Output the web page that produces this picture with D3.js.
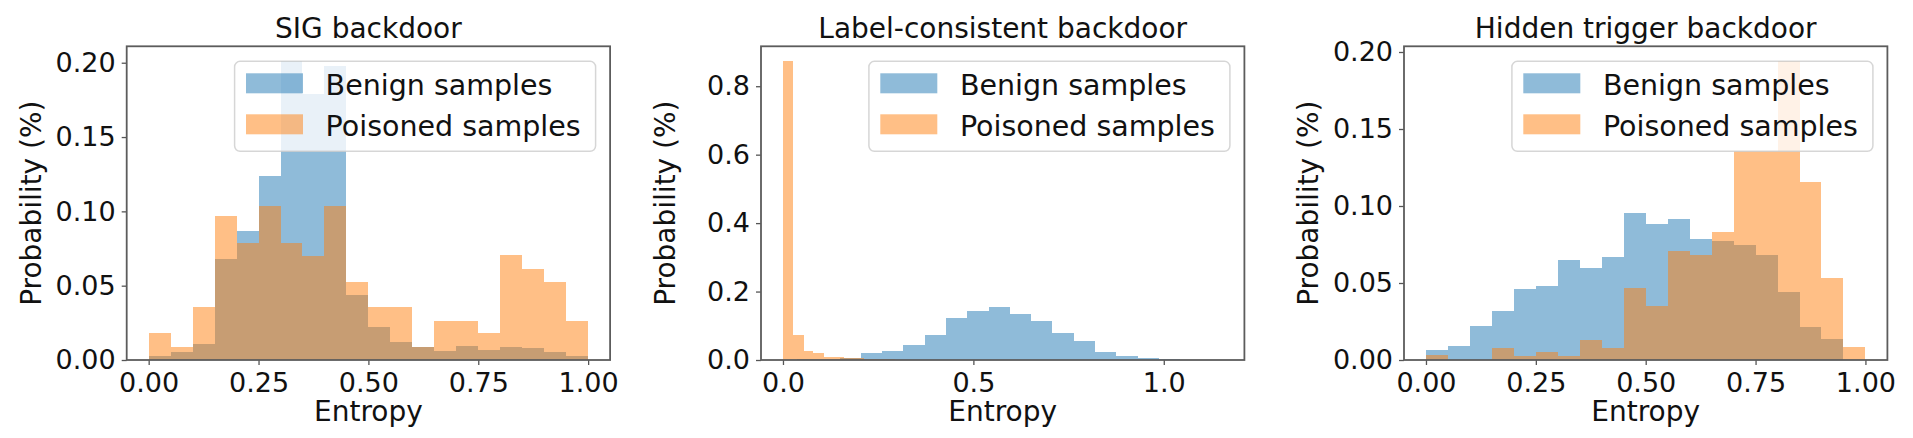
<!DOCTYPE html>
<html>
<head>
<meta charset="utf-8">
<script src="https://cdnjs.cloudflare.com/ajax/libs/d3/7.8.5/d3.min.js"></script>
<style>
  html, body { margin: 0; padding: 0; background: #fff; }
  svg text { font-family: "DejaVu Sans", sans-serif; fill: #111; }
</style>
</head>
<body>
<div id="chart"></div>
<script>
// ---- data (probability per bin) ----
const seriesNames = ["Benign samples", "Poisoned samples"];
const titles = ["SIG backdoor", "Label-consistent backdoor", "Hidden trigger backdoor"];

// SIG backdoor, 20 bins over [0, 1]
const sigEdges = [0, 0.05, 0.10, 0.15, 0.20, 0.25, 0.30, 0.35, 0.40, 0.45, 0.50,
                  0.55, 0.60, 0.65, 0.70, 0.75, 0.80, 0.85, 0.90, 0.95, 1.00];
const sigBenign = [0.003, 0.0056, 0.011, 0.068, 0.087, 0.124, 0.201, 0.179, 0.198, 0.0436,
                   0.022, 0.012, 0.009, 0.006, 0.0094, 0.007, 0.009, 0.008, 0.0056, 0.003];
const sigPoisoned = [0.018, 0.009, 0.0355, 0.0967, 0.0787, 0.1035, 0.079, 0.070, 0.1035, 0.0526,
                     0.0355, 0.0355, 0.009, 0.0265, 0.0265, 0.018, 0.0706, 0.061, 0.0526, 0.0265];

// Label-consistent backdoor, each series has its own bins
const lcBenignEdges = [0.037, 0.093, 0.149, 0.204, 0.260, 0.316, 0.372, 0.428, 0.484, 0.540, 0.596,
                       0.651, 0.707, 0.763, 0.819, 0.875, 0.931, 0.987, 1.042, 1.098, 1.154];
const lcBenign = [0.002, 0.004, 0.006, 0.019, 0.026, 0.043, 0.072, 0.122, 0.142, 0.156,
                  0.135, 0.113, 0.079, 0.055, 0.024, 0.0125, 0.006, 0.004, 0.001, 0.0005];
const lcPoisonedEdges = [0, 0.027, 0.054, 0.080, 0.107, 0.134, 0.161, 0.188, 0.214, 0.241, 0.268,
                         0.295, 0.322, 0.348, 0.375, 0.402, 0.429, 0.456, 0.482, 0.509, 0.536];
const lcPoisoned = [0.873, 0.072, 0.027, 0.019, 0.010, 0.008, 0.006, 0.005, 0.004, 0.003,
                    0.002, 0.001, 0.001, 0.0005, 0.0005, 0, 0, 0, 0, 0.0003];

// Hidden trigger backdoor, 20 bins over [0, 1]
const htEdges = sigEdges;
const htBenign = [0.0065, 0.0092, 0.022, 0.032, 0.046, 0.048, 0.065, 0.060, 0.067, 0.0955,
                  0.088, 0.0914, 0.0783, 0.0772, 0.0746, 0.068, 0.0439, 0.0216, 0.0136, 0];
const htPoisoned = [0.003, 0, 0, 0.0075, 0.0026, 0.0054, 0.0026, 0.013, 0.0075, 0.0465,
                    0.0352, 0.071, 0.068, 0.0832, 0.136, 0.136, 0.194, 0.1157, 0.0534, 0.0082];

const xTicks = [[0, 0.25, 0.5, 0.75, 1.0], [0, 0.5, 1.0], [0, 0.25, 0.5, 0.75, 1.0]];
const yTicks = [[0, 0.05, 0.10, 0.15, 0.20], [0, 0.2, 0.4, 0.6, 0.8], [0, 0.05, 0.10, 0.15, 0.20]];
const xFormats = [".2f", ".1f", ".2f"];
const yFormats = [".2f", ".1f", ".2f"];

// ---- layout ----
const W = 1913, H = 438;
const axLeft = [126.7, 761, 1404];
const axW = 483.4, axTop = 46.3, axBottom = 360;
const colors = ["#1f77b4", "#ff7f0e"];

const panels = [
  { edges: [sigEdges, sigEdges], values: [sigBenign, sigPoisoned] },
  { edges: [lcBenignEdges, lcPoisonedEdges], values: [lcBenign, lcPoisoned] },
  { edges: [htEdges, htEdges], values: [htBenign, htPoisoned] }
];

const svg = d3.select("#chart").append("svg")
  .attr("width", W).attr("height", H);

panels.forEach((p, pi) => {
  const x0 = axLeft[pi], x1 = x0 + axW;

  // data limits with matplotlib-like 5% x margin
  const lo = d3.min(p.edges, e => e[0]);
  const hi = d3.max(p.edges, e => e[e.length - 1]);
  const pad = (hi - lo) * 0.05;
  const x = d3.scaleLinear().domain([lo - pad, hi + pad]).range([x0, x1]);
  const ymax = d3.max(p.values, v => d3.max(v));
  const y = d3.scaleLinear().domain([0, ymax * 1.05]).range([axBottom, axTop]);

  const g = svg.append("g");
  const clipId = "clip" + pi;
  g.append("clipPath").attr("id", clipId).append("rect")
    .attr("x", x0).attr("y", axTop).attr("width", axW).attr("height", axBottom - axTop);

  // bars, benign first then poisoned, both half transparent
  p.values.forEach((vals, si) => {
    const bins = vals.map((v, i) => ({ a: p.edges[si][i], b: p.edges[si][i + 1], v }));
    g.append("g").attr("clip-path", `url(#${clipId})`)
      .selectAll("rect").data(bins.filter(d => d.v > 0)).join("rect")
      .attr("x", d => x(d.a))
      .attr("width", d => x(d.b) - x(d.a))
      .attr("y", d => y(d.v))
      .attr("height", d => y(0) - y(d.v))
      .attr("fill", colors[si])
      .attr("fill-opacity", 0.5)
      .attr("shape-rendering", "crispEdges");
  });

  // axes
  const xAxis = d3.axisBottom(x).tickValues(xTicks[pi]).tickFormat(d3.format(xFormats[pi]))
    .tickSize(5).tickPadding(4);
  const yAxis = d3.axisLeft(y).tickValues(yTicks[pi]).tickFormat(d3.format(yFormats[pi]))
    .tickSize(5).tickPadding(6);

  const gx = g.append("g").attr("transform", `translate(0,${axBottom})`).call(xAxis);
  const gy = g.append("g").attr("transform", `translate(${x0},0)`).call(yAxis);
  [gx, gy].forEach(a => {
    a.select(".domain").remove();
    a.selectAll(".tick line").attr("stroke", "#555").attr("stroke-width", 1.3);
    a.selectAll(".tick text").style("font-size", "27px").attr("fill", "#111");
  });
  gx.selectAll(".tick text").attr("dy", "0.85em");

  // frame
  g.append("rect")
    .attr("x", x0).attr("y", axTop).attr("width", axW).attr("height", axBottom - axTop)
    .attr("fill", "none").attr("stroke", "#5c5c5c").attr("stroke-width", 1.8);

  // title and labels
  g.append("text").attr("x", x0 + axW / 2).attr("y", 38)
    .attr("text-anchor", "middle").style("font-size", "28px").text(titles[pi]);
  g.append("text").attr("x", x0 + axW / 2).attr("y", 421)
    .attr("text-anchor", "middle").style("font-size", "28px").text("Entropy");
  g.append("text")
    .attr("transform", `translate(${x0 - 86},${(axTop + axBottom) / 2}) rotate(-90)`)
    .attr("text-anchor", "middle").style("font-size", "28px").text("Probability (%)");

  // legend (upper right, semi-transparent frame)
  const lw = 361, lh = 90;
  const lx = x1 - 14.5 - lw, ly = axTop + 15;
  const lg = g.append("g").attr("transform", `translate(${lx},${ly})`);
  lg.append("rect").attr("width", lw).attr("height", lh).attr("rx", 5.5)
    .attr("fill", "#fff").attr("fill-opacity", 0.8)
    .attr("stroke", "#ccc").attr("stroke-opacity", 0.8).attr("stroke-width", 1.5);
  seriesNames.forEach((name, si) => {
    const row = lg.append("g").attr("transform", `translate(0,${12 + si * 41})`);
    row.append("rect").attr("x", 11.4).attr("width", 57).attr("height", 20)
      .attr("fill", colors[si]).attr("fill-opacity", 0.5);
    row.append("text").attr("x", 91).attr("y", 11).attr("dy", "0.36em")
      .style("font-size", "28.5px").text(name);
  });
});
</script>
</body>
</html>
